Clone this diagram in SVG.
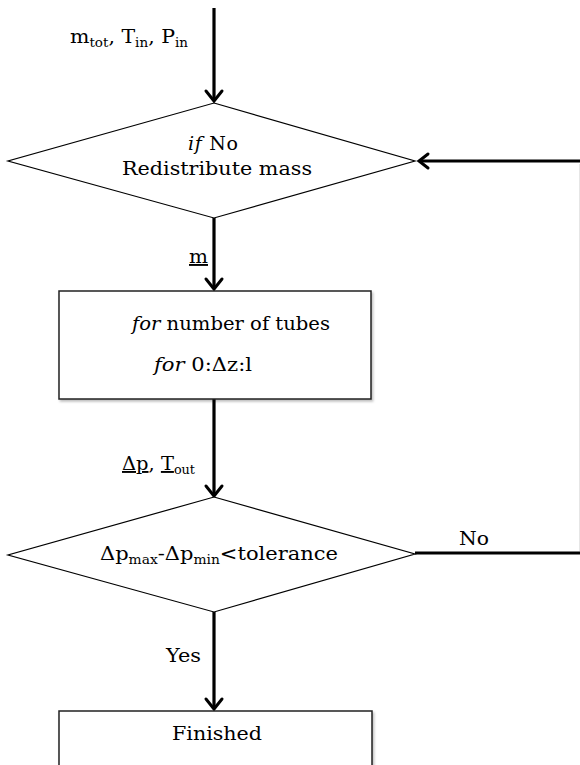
<svg xmlns="http://www.w3.org/2000/svg" width="580" height="765" viewBox="0 0 580 765">
<defs>
<style>
.t{font-family:"DejaVu Serif","Liberation Serif",serif;font-size:19px;fill:#000}
.s{font-size:12.5px}
.shape{fill:#fff;stroke:#000;stroke-width:1.2}
.box{fill:#fff;stroke:#222;stroke-width:1.5}
.conn{fill:none;stroke:#000;stroke-width:3.2}
.head{fill:none;stroke:#000;stroke-width:3;stroke-linecap:round;stroke-linejoin:miter}
</style>
<filter id="sh" x="-5%" y="-5%" width="115%" height="120%">
<feDropShadow dx="1.5" dy="2" stdDeviation="1.2" flood-color="#000" flood-opacity="0.25"/>
</filter>
</defs>

<g id="connectors">
<g id="c1"><line class="conn" x1="214" y1="8" x2="214" y2="101"/><polyline class="head" points="206,91 214,101 222,91"/></g>
<g id="c2"><line class="conn" x1="214" y1="218" x2="214" y2="289"/><polyline class="head" points="206,279 214,289 222,279"/></g>
<g id="c3"><line class="conn" x1="214" y1="399" x2="214" y2="496"/><polyline class="head" points="206,486 214,496 222,486"/></g>
<g id="c4"><line class="conn" x1="214" y1="612" x2="214" y2="709"/><polyline class="head" points="206,699 214,709 222,699"/></g>
<g id="c5">
<line class="conn" x1="415" y1="553" x2="580" y2="553" style="stroke-width:3"/>
<line x1="579.5" y1="164" x2="579.5" y2="551" stroke="#e6e6e6" stroke-width="1"/>
<line class="conn" x1="580" y1="161" x2="420" y2="161" style="stroke-width:3"/>
<polyline class="head" points="428,154 419,161 428,168"/>
</g>
</g>

<g id="n1">
<polygon class="shape" points="214,103 415,161 214,218 8,161"/>
<text class="t" x="188" y="150" textLength="50"><tspan font-style="italic">if</tspan> No</text>
<text class="t" x="122" y="175" textLength="190" lengthAdjust="spacingAndGlyphs">Redistribute mass</text>
</g>

<g id="n2">
<rect class="box" x="59" y="291" width="312" height="108" filter="url(#sh)"/>
<text class="t" x="132" y="330" textLength="198" lengthAdjust="spacingAndGlyphs"><tspan font-style="italic">for</tspan> number of tubes</text>
<text class="t" x="154" y="371" textLength="98" lengthAdjust="spacingAndGlyphs"><tspan font-style="italic">for</tspan> 0:Δz:l</text>
</g>

<g id="n3">
<polygon class="shape" points="214,497 415,554 214,612 8,555"/>
<text class="t" x="100" y="560" textLength="238" lengthAdjust="spacingAndGlyphs">Δp<tspan class="s" dy="4">max</tspan><tspan dy="-4">-Δp</tspan><tspan class="s" dy="4">min</tspan><tspan dy="-4">&lt;tolerance</tspan></text>
</g>

<g id="n4">
<rect class="box" x="59" y="711" width="313" height="70" filter="url(#sh)"/>
<text class="t" x="172" y="740" textLength="90" lengthAdjust="spacingAndGlyphs">Finished</text>
</g>

<g id="labels">
<text class="t" x="70" y="43" textLength="118" lengthAdjust="spacingAndGlyphs">m<tspan class="s" dy="4">tot</tspan><tspan dy="-4">, T</tspan><tspan class="s" dy="4">in</tspan><tspan dy="-4">, P</tspan><tspan class="s" dy="4">in</tspan></text>
<text class="t" x="189" y="263" text-decoration="underline" textLength="19" lengthAdjust="spacingAndGlyphs">m</text>
<text class="t" x="122" y="470" textLength="73" lengthAdjust="spacingAndGlyphs"><tspan text-decoration="underline">Δp</tspan>, <tspan text-decoration="underline">T</tspan><tspan class="s" dy="4">out</tspan></text>
<text class="t" x="459" y="545" textLength="30" lengthAdjust="spacingAndGlyphs">No</text>
<text class="t" x="166" y="662" textLength="35" lengthAdjust="spacingAndGlyphs">Yes</text>
</g>
</svg>
